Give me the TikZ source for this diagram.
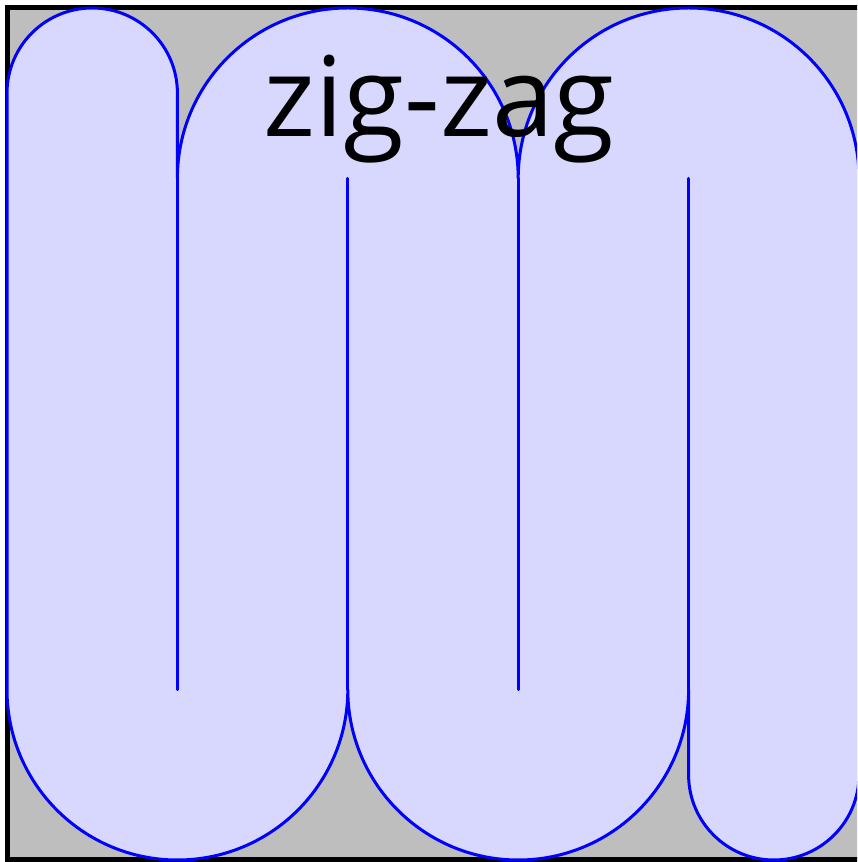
\documentclass[tikz,border=0pt]{standalone}
\usepackage{fontspec}
\setmainfont{Open Sans}
\definecolor{bgray}{RGB}{190,190,190}
\definecolor{lightblue}{RGB}{216,216,255}
\begin{document}
\begin{tikzpicture}[x=1pt,y=1pt,
  frame/.style={draw=black,line width=5pt,fill=bgray},
  snake/.style={draw=blue,line width=3pt,fill=lightblue,line join=round},
  inner/.style={draw=blue,line width=3pt,line cap=round}]
\useasboundingbox (0,0) rectangle (857,862);
\clip (0,0) rectangle (857,862);
\def\xa{7}\def\xb{177.4}\def\xc{347.8}\def\xd{518.2}\def\xe{688.6}\def\xf{859}
\def\yT{768.8}\def\yA{683.6}\def\yB{172.4}\def\yS{87.2}
\def\rs{85.2}\def\rb{170.4}
\path[frame] (7,854.5) rectangle (875,2.5);
\path[snake] (\xa,\yB) -- (\xa,\yT) arc[start angle=180,end angle=0,radius=\rs]
  -- (\xb,\yA) arc[start angle=180,end angle=0,radius=\rb]
  arc[start angle=180,end angle=0,radius=\rb]
  -- (\xf,\yS) arc[start angle=0,end angle=-180,radius=\rs]
  -- (\xe,\yB) arc[start angle=0,end angle=-180,radius=\rb]
  arc[start angle=0,end angle=-180,radius=\rb] -- cycle;
\coordinate (b1) at (\xb,\yA); \coordinate (b2) at (\xb,\yB);
\coordinate (c1) at (\xc,\yA); \coordinate (c2) at (\xc,\yB);
\coordinate (d1) at (\xd,\yA); \coordinate (d2) at (\xd,\yB);
\coordinate (e1) at (\xe,\yA); \coordinate (e2) at (\xe,\yB);
\draw[inner] (b1) -- (b2);
\draw[inner] (c1) -- (c2);
\draw[inner] (d1) -- (d2);
\draw[inner] (e1) -- (e2);
\node[anchor=base,inner sep=0pt,font=\fontsize{111}{130}\selectfont] (title) at (439,725) {zig-zag};
\end{tikzpicture}
\end{document}
